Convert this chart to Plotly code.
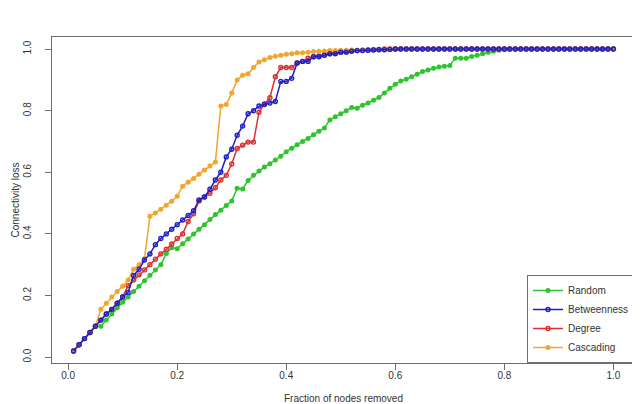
import plotly.graph_objects as go

# fraction of nodes removed (0.01 .. 1.00)
fraction = [i / 100 for i in range(1, 101)]

random_loss = [
    0.02, 0.04, 0.06, 0.08, 0.10, 0.10, 0.12, 0.14, 0.16, 0.178,
    0.195, 0.213, 0.23, 0.248, 0.266, 0.283, 0.30, 0.336, 0.355, 0.352,
    0.368, 0.383, 0.40, 0.415, 0.43, 0.447, 0.463, 0.477, 0.492, 0.507,
    0.548, 0.546, 0.573, 0.59, 0.604, 0.617, 0.628, 0.64, 0.652, 0.667,
    0.678, 0.689, 0.70, 0.71, 0.722, 0.733, 0.744, 0.77, 0.78, 0.79,
    0.80, 0.81, 0.808, 0.818, 0.825, 0.834, 0.843, 0.857, 0.873, 0.886,
    0.896, 0.902, 0.91, 0.918, 0.927, 0.932, 0.938, 0.942, 0.944, 0.947,
    0.97, 0.97, 0.97, 0.976, 0.98, 0.985, 0.99, 0.993, 0.996, 0.998,
    1.0, 1.0, 1.0, 1.0, 1.0, 1.0, 1.0, 1.0, 1.0, 1.0,
    1.0, 1.0, 1.0, 1.0, 1.0, 1.0, 1.0, 1.0, 1.0, 1.0,
]

betweenness_loss = [
    0.02, 0.04, 0.06, 0.08, 0.10, 0.12, 0.14, 0.155, 0.175, 0.195,
    0.21, 0.265, 0.285, 0.315, 0.335, 0.365, 0.385, 0.40, 0.415, 0.43,
    0.445, 0.46, 0.475, 0.51, 0.52, 0.545, 0.575, 0.60, 0.65, 0.675,
    0.72, 0.75, 0.79, 0.80, 0.815, 0.82, 0.825, 0.83, 0.895, 0.895,
    0.905, 0.955, 0.96, 0.96, 0.975, 0.975, 0.98, 0.985, 0.985, 0.99,
    0.99, 0.993, 0.995, 0.995, 0.996, 0.997, 0.998, 0.998, 0.999, 1.0,
    1.0, 1.0, 1.0, 1.0, 1.0, 1.0, 1.0, 1.0, 1.0, 1.0,
    1.0, 1.0, 1.0, 1.0, 1.0, 1.0, 1.0, 1.0, 1.0, 1.0,
    1.0, 1.0, 1.0, 1.0, 1.0, 1.0, 1.0, 1.0, 1.0, 1.0,
    1.0, 1.0, 1.0, 1.0, 1.0, 1.0, 1.0, 1.0, 1.0, 1.0,
]

degree_loss = [
    0.02, 0.04, 0.06, 0.08, 0.10, 0.12, 0.14, 0.155, 0.175, 0.195,
    0.232, 0.25, 0.267, 0.283, 0.30, 0.318, 0.335, 0.35, 0.367, 0.385,
    0.40, 0.44, 0.465, 0.507, 0.52, 0.532, 0.55, 0.575, 0.59, 0.627,
    0.677, 0.688, 0.698, 0.698, 0.795, 0.822, 0.842, 0.91, 0.94, 0.94,
    0.94, 0.955, 0.96, 0.97, 0.975, 0.978, 0.98, 0.985, 0.988, 0.99,
    0.992, 0.994, 0.995, 0.996, 0.997, 0.998, 0.999, 1.0, 1.0, 1.0,
    1.0, 1.0, 1.0, 1.0, 1.0, 1.0, 1.0, 1.0, 1.0, 1.0,
    1.0, 1.0, 1.0, 1.0, 1.0, 1.0, 1.0, 1.0, 1.0, 1.0,
    1.0, 1.0, 1.0, 1.0, 1.0, 1.0, 1.0, 1.0, 1.0, 1.0,
    1.0, 1.0, 1.0, 1.0, 1.0, 1.0, 1.0, 1.0, 1.0, 1.0,
]

cascading_loss = [
    0.02, 0.04, 0.06, 0.08, 0.10, 0.155, 0.175, 0.195, 0.213, 0.23,
    0.25, 0.285, 0.30, 0.32, 0.457, 0.468, 0.48, 0.493, 0.506, 0.522,
    0.555, 0.568, 0.58, 0.594, 0.607, 0.62, 0.633, 0.815, 0.82, 0.857,
    0.90, 0.915, 0.92, 0.94, 0.958, 0.965, 0.973, 0.977, 0.98, 0.983,
    0.985, 0.988, 0.988, 0.99, 0.992, 0.993, 0.994, 0.995, 0.995, 0.996,
    0.996, 0.997, 0.997, 0.998, 0.998, 0.999, 0.999, 1.0, 1.0, 1.0,
    1.0, 1.0, 1.0, 1.0, 1.0, 1.0, 1.0, 1.0, 1.0, 1.0,
    1.0, 1.0, 1.0, 1.0, 1.0, 1.0, 1.0, 1.0, 1.0, 1.0,
    1.0, 1.0, 1.0, 1.0, 1.0, 1.0, 1.0, 1.0, 1.0, 1.0,
    1.0, 1.0, 1.0, 1.0, 1.0, 1.0, 1.0, 1.0, 1.0, 1.0,
]

tick_vals = [0.0, 0.2, 0.4, 0.6, 0.8, 1.0]
tick_text = ["0.0", "0.2", "0.4", "0.6", "0.8", "1.0"]

# drawing order: blue last so it sits on top, legend order set by rank
series = [
    ("Random", random_loss, "#2ec42e", "circle", 1),
    ("Degree", degree_loss, "#dc2f2f", "circle-open", 3),
    ("Cascading", cascading_loss, "#f2a52c", "circle", 4),
    ("Betweenness", betweenness_loss, "#1f1fc4", "circle-open", 2),
]

fig = go.Figure()
for name, values, color, symbol, rank in series:
    is_open = symbol.endswith("open")
    fig.add_trace(go.Scatter(
        x=fraction,
        y=values,
        mode="lines+markers",
        name=name,
        legendrank=rank,
        line=dict(color=color, width=1.5),
        marker=dict(color=color, size=4 if is_open else 5, symbol=symbol,
                    line=dict(color=color, width=1.4 if is_open else 0)),
    ))

axis_common = dict(
    showline=True,
    mirror=True,
    linecolor="#6e6e6e",
    linewidth=1,
    ticks="outside",
    ticklen=6,
    tickcolor="#6e6e6e",
    showgrid=False,
    zeroline=False,
    tickvals=tick_vals,
    ticktext=tick_text,
    tickfont=dict(size=10, color="#333333"),
    automargin=False,
)

fig.update_layout(
    width=640,
    height=404,
    margin=dict(l=44, r=13, t=29, b=49),
    paper_bgcolor="white",
    plot_bgcolor="white",
    font=dict(family="Liberation Sans, Arial, sans-serif", size=10, color="#333333"),
    xaxis=dict(
        range=[-0.0296, 1.0396],
        ticklabelstandoff=-3,
        title=dict(text="Fraction of nodes removed", standoff=14,
                   font=dict(size=10, color="#333333")),
        **axis_common,
    ),
    yaxis=dict(
        range=[-0.0192, 1.0392],
        tickangle=-90,
        ticklabelstandoff=10,
        title=dict(text="Connectivity loss", standoff=0,
                   font=dict(size=10, color="#333333")),
        **axis_common,
    ),
    legend=dict(
        x=1, y=0, xanchor="right", yanchor="bottom",
        bordercolor="#6e6e6e", borderwidth=1,
        bgcolor="white",
        font=dict(size=10, color="#333333"),
        tracegroupgap=0,
        itemwidth=30,
    ),
)

fig.write_html("out.html")
